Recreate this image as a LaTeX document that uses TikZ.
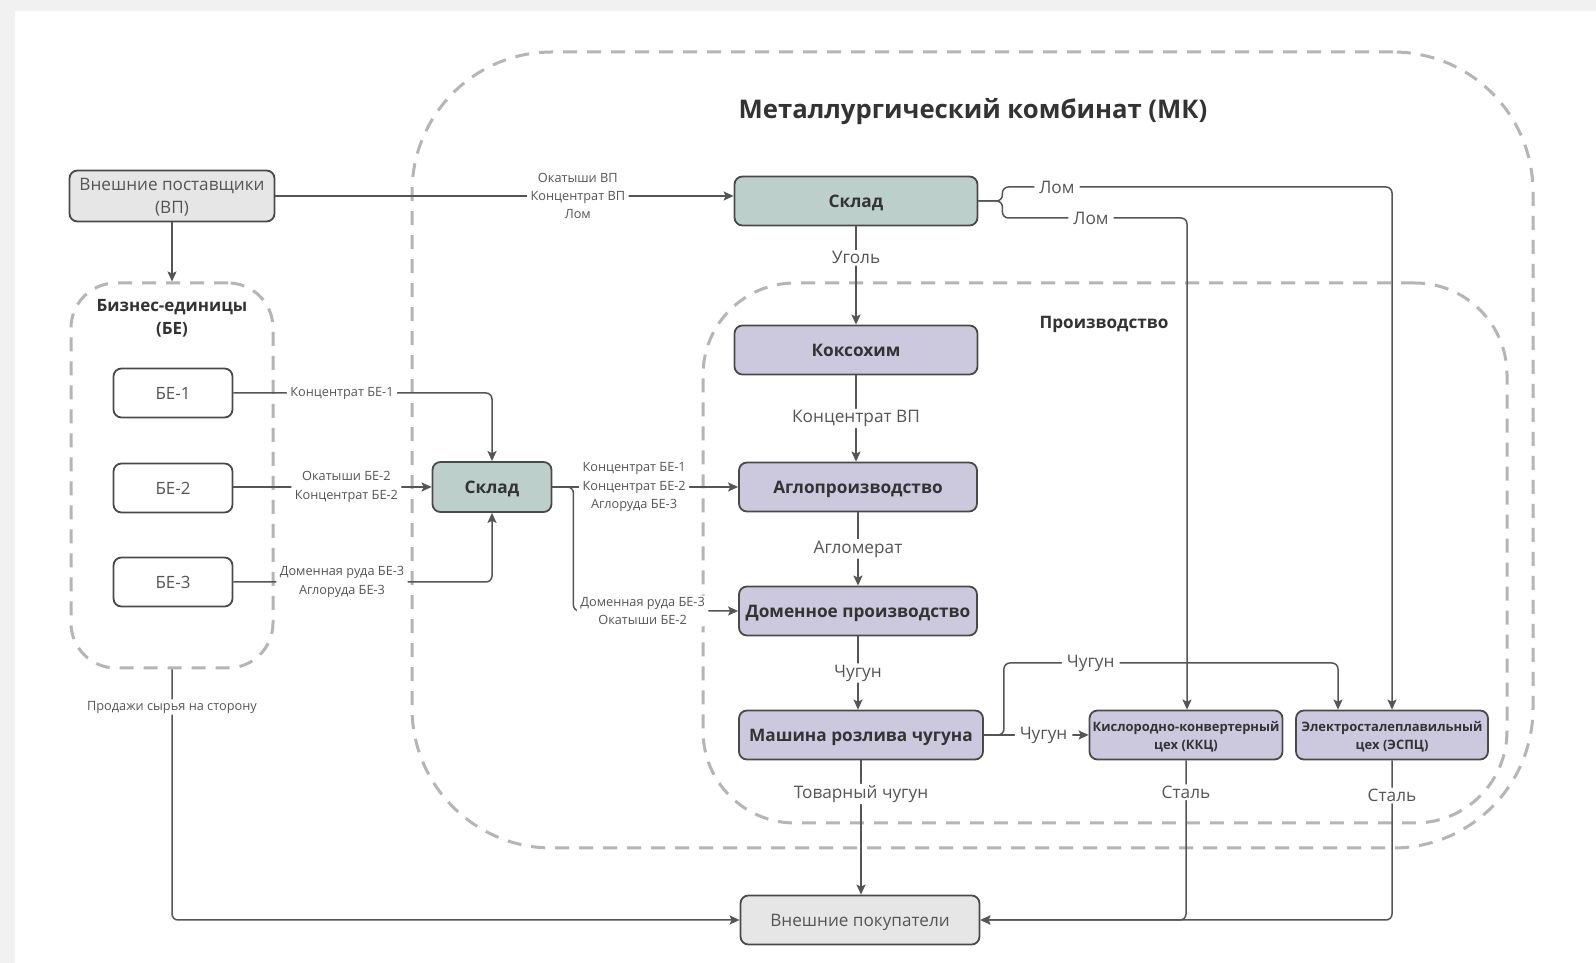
\documentclass[tikz,border=0pt]{standalone}
\usepackage{fontspec}
\setmainfont{Open Sans}
\usetikzlibrary{arrows.meta,shapes,calc,positioning}

\definecolor{skladfill}{HTML}{BCCFCA}
\definecolor{prodfill}{HTML}{CCC8DE}
\definecolor{extfill}{HTML}{E6E6E6}
\definecolor{edgegray}{HTML}{4A4A4A}
\definecolor{linegray}{HTML}{555555}
\definecolor{dashgray}{HTML}{B5B5B5}
\definecolor{txtgray}{HTML}{555555}
\definecolor{pagegray}{HTML}{F1F1F1}

\begin{document}
\begin{tikzpicture}[>={Stealth[length=10bp,width=9bp,inset=2bp]},line join=round]
 \tikzstyle{group}=[draw=dashgray,line width=3bp,dash pattern=on 14bp off 10bp,rounded corners=140bp,inner sep=0pt]
 \tikzstyle{box}=[draw=edgegray,line width=1.8bp,rounded corners=8bp,inner sep=2bp,align=center,text depth=0pt,text=black!80]
 \tikzstyle{ext}=[box,fill=extfill,minimum height=49bp,text=txtgray,font=\fontsize{17.2}{23}\selectfont]
 \tikzstyle{unit}=[box,fill=white,minimum width=119bp,minimum height=49bp,text=txtgray,font=\fontsize{17}{23}\selectfont]
 \tikzstyle{sklad}=[box,fill=skladfill,minimum height=49bp,font=\fontsize{17.3}{20}\selectfont\bfseries]
 \tikzstyle{proc}=[box,fill=prodfill,minimum width=238bp,minimum height=49bp,font=\fontsize{17.3}{20}\selectfont\bfseries]
 \tikzstyle{shop}=[box,fill=prodfill,minimum height=49bp,font=\fontsize{13}{18}\selectfont\bfseries]
 \tikzstyle{conn}=[draw=linegray,line width=1.5bp,rounded corners=6bp]
 \tikzstyle{lbl}=[fill=white,inner xsep=5bp,inner ysep=1.5bp,text=txtgray,font=\fontsize{17.3}{20}\selectfont]
 \tikzstyle{small}=[fill=white,inner xsep=3.5bp,inner ysep=1.5bp,text=txtgray,align=center,font=\fontsize{12.8}{18.5}\selectfont]

 % page
 \fill[pagegray] (0,0) rectangle (1596bp,963bp);
 \fill[white] (15bp,0) rectangle (1596bp,952bp);
 \useasboundingbox (0,0) rectangle (1596bp,963bp);

 % areas
 \node[group,minimum width=1121bp,minimum height=796bp] (mk) at (972.5bp,513bp) {};
 \node[group,rounded corners=92bp,minimum width=804bp,minimum height=540bp] (prod) at (1105bp,410bp) {};
 \node[group,rounded corners=45bp,minimum width=202bp,minimum height=385bp] (begroup) at (172bp,487.5bp) {};

 \node (mktitle) at (973bp,851bp) [text=black!80,font=\fontsize{25.8}{30}\selectfont\bfseries] {Металлургический комбинат (МК)};
 \node (prodtitle) at (1104bp,639bp) [text=black!80,font=\fontsize{17.2}{20}\selectfont\bfseries] {Производство};
 \node (betitle) at (172bp,644.5bp) [text=black!80,align=center,font=\fontsize{17}{23}\selectfont\bfseries] {Бизнес-единицы\\(БЕ)};

 % nodes
 \node (vp) at (172bp,767bp) [ext,minimum width=205bp,minimum height=51bp] {Внешние поставщики\\(ВП)};
 \node (be1) at (173bp,570bp) [unit] {БЕ-1};
 \node (be2) at (173bp,475bp) [unit] {БЕ-2};
 \node (be3) at (173bp,381bp) [unit] {БЕ-3};
 \node (skladbe) at (492bp,476bp) [sklad,minimum width=119bp,minimum height=50bp] {Склад};

 \node (skladmk) at (856bp,762bp) [sklad,minimum width=243bp] {Склад};
 \node (koks) at (856bp,613bp) [proc,minimum width=243bp] {Коксохим};
 \node (aglo) at (858bp,476bp) [proc] {Аглопроизводство};
 \node (domna) at (858bp,352bp) [proc] {Доменное производство};
 \node (mrch) at (861bp,228bp) [proc,minimum width=244bp] {Машина розлива чугуна};
 \node (kkc) at (1186bp,228bp) [shop,minimum width=193bp] {Кислородно-конвертерный\\цех (ККЦ)};
 \node (espc) at (1392bp,228bp) [shop,minimum width=192bp] {Электросталеплавильный\\цех (ЭСПЦ)};
 \node (pokup) at (860bp,43bp) [ext,minimum width=239bp] {Внешние покупатели};

 \coordinate (lomA) at (1392bp,776bp);
 \coordinate (lomB) at (1187bp,745bp);
 \coordinate (chugjog) at (1338bp,300bp);

 % supplies
 \draw [->,conn] (vp.east) -- node[small,pos=0.66] {Окатыши ВП\\Концентрат ВП\\Лом} (vp.east -| skladmk.west);
 \draw [->,conn] (vp) -- (begroup);
 \draw [->,conn] (be1.east) -| node[small,pos=0.21] {Концентрат БЕ-1} (skladbe.north);
 \draw [->,conn] (be2.east |- skladbe) -- node[small,pos=0.57] {Окатыши БЕ-2\\Концентрат БЕ-2} (skladbe.west);
 \draw [->,conn] (be3.east) -| node[small,pos=0.21] {Доменная руда БЕ-3\\Аглоруда БЕ-3} (skladbe.south);
 \draw [->,conn] (skladbe.east) -- node[small,pos=0.44] {Концентрат БЕ-1\\Концентрат БЕ-2\\Аглоруда БЕ-3} (aglo.west);
 \draw [->,conn] (skladbe.east) -- ++(21bp,0) |- node[small,pos=0.71] {Доменная руда БЕ-3\\Окатыши БЕ-2} (domna.west);

 % production chain
 \draw [->,conn] (skladmk) -- node[lbl,pos=0.32] {Уголь} (koks);
 \draw [->,conn] (koks) -- node[lbl] {Концентрат ВП} (koks |- aglo.north);
 \draw [->,conn] (aglo) -- node[lbl] {Агломерат} (domna);
 \draw [->,conn] (domna) -- node[lbl] {Чугун} (domna |- mrch.north);
 \draw [->,conn] (mrch) -- node[lbl,pos=0.25] {Товарный чугун} (mrch |- pokup.north);
 \draw [->,conn] (mrch.east) -- node[lbl,pos=0.57] {Чугун} (kkc.west);
 \draw [->,conn] (mrch.east) -- ++(20bp,0) |- node[lbl,pos=0.63] {Чугун} (chugjog) -- (chugjog |- espc.north);
 \draw [->,conn] (skladmk.east) -- ++(24bp,0) |- node[lbl,pos=0.57] {Лом} (lomA) -- (espc.north);
 \draw [->,conn] (skladmk.east) -- ++(24bp,0) |- node[lbl,pos=0.74] {Лом} (lomB) -- (lomB |- kkc.north);

 % sales
 \draw [->,conn] (kkc.south) |- node[lbl,pos=0.1] {Сталь} (pokup.east);
 \draw [->,conn] (espc.south) |- node[lbl,pos=0.11] {Сталь} (pokup.east);
 \draw [->,conn] (begroup.south) |- node[small,pos=0.075] {Продажи сырья на сторону} (pokup.west);
\end{tikzpicture}
\end{document}
